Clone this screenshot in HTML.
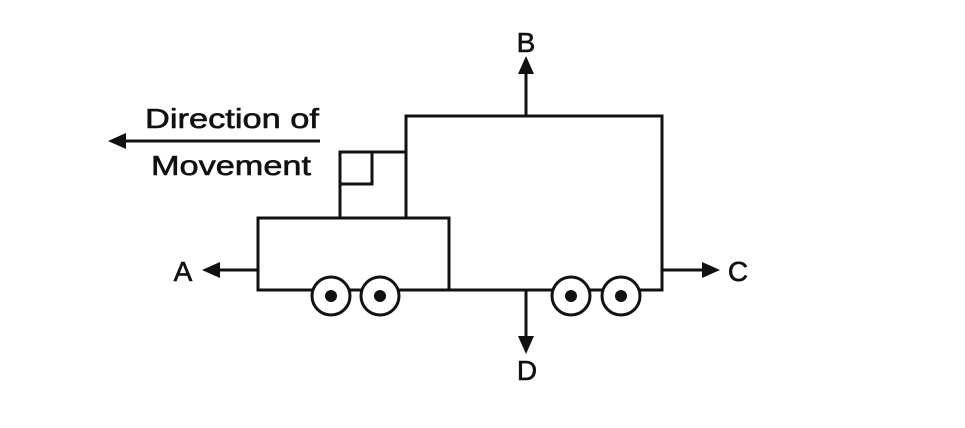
<!DOCTYPE html>
<html><head><meta charset="utf-8"><style>
html,body{margin:0;padding:0;background:#fff;}
svg{display:block;}
text{font-family:"Liberation Sans",Arial,sans-serif;fill:#111;stroke:#111;stroke-width:0.6;}
</style></head><body>
<svg width="965" height="428" viewBox="0 0 965 428">
<defs>
<marker id="ah" markerWidth="18" markerHeight="16" refX="14" refY="8" orient="auto" markerUnits="userSpaceOnUse" viewBox="0 0 18 16">
<path d="M0,0 L18,8 L0,16 z" fill="#111"/>
</marker>
</defs>
<g stroke="#111" stroke-width="3" fill="none">
<polyline points="406,218 406,116 662,116 662,290 449,290"/>
<rect x="258" y="218" width="191" height="72"/>
<polyline points="340,218 340,152 406,152"/>
<polyline points="340,184 372,184 372,152"/>
</g>
<g stroke="#111" stroke-width="3" fill="#fff">
<circle cx="331" cy="296" r="19"/><circle cx="380" cy="296" r="19"/>
<circle cx="571" cy="296" r="19"/><circle cx="621" cy="296" r="19"/>
</g>
<g fill="#111">
<circle cx="331" cy="296" r="6"/><circle cx="380" cy="296" r="6"/>
<circle cx="571" cy="296" r="6"/><circle cx="621" cy="296" r="6"/>
</g>
<g stroke="#111" stroke-width="3" marker-end="url(#ah)">
<line x1="526" y1="116" x2="526" y2="60"/>
<line x1="526" y1="290" x2="526" y2="350"/>
<line x1="258" y1="270" x2="206" y2="270"/>
<line x1="662" y1="270" x2="716" y2="270"/>
<line x1="320" y1="141" x2="112" y2="141"/>
</g>
<g font-size="28">
<text x="526" y="52" text-anchor="middle">B</text>
<text x="527" y="380" text-anchor="middle">D</text>
<text x="183" y="281" text-anchor="middle">A</text>
<text x="738" y="281" text-anchor="middle">C</text>
<text x="232" y="128" text-anchor="middle" textLength="174" lengthAdjust="spacingAndGlyphs">Direction of</text>
<text x="231" y="175" text-anchor="middle" textLength="160" lengthAdjust="spacingAndGlyphs">Movement</text>
</g>
</svg>
</body></html>
